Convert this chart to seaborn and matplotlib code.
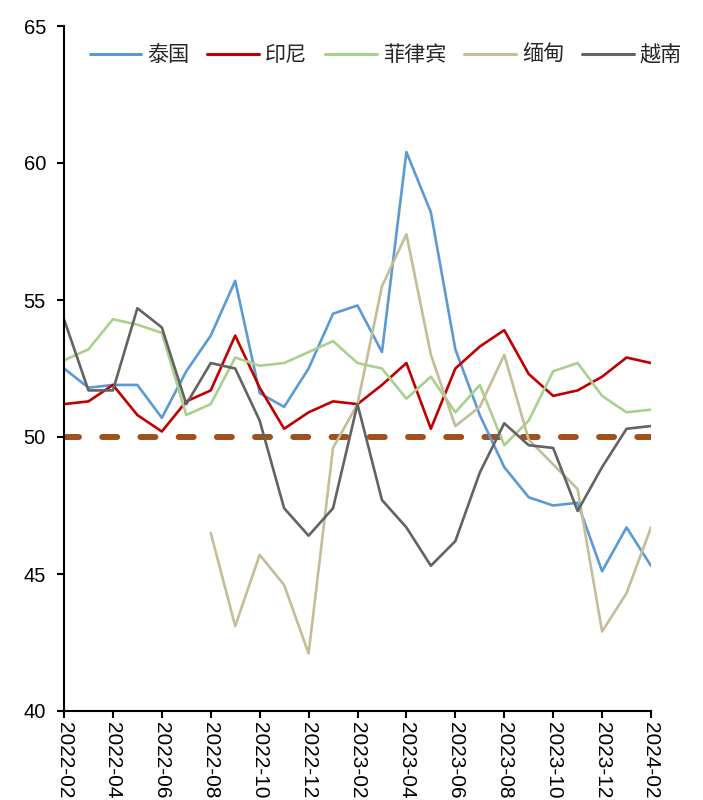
import numpy as np
import pandas as pd
import matplotlib
matplotlib.use("Agg")
import matplotlib.pyplot as plt
import seaborn as sns

# Monthly PMI readings, 2022-02 .. 2024-02
months = pd.period_range("2022-02", "2024-02", freq="M").strftime("%Y-%m").tolist()

thailand = [52.5, 51.8, 51.9, 51.9, 50.7, 52.4, 53.7, 55.7, 51.6, 51.1, 52.5, 54.5, 54.8,
            53.1, 60.4, 58.2, 53.2, 50.8, 48.9, 47.8, 47.5, 47.6, 45.1, 46.7, 45.3]
indonesia = [51.2, 51.3, 51.9, 50.8, 50.2, 51.3, 51.7, 53.7, 51.8, 50.3, 50.9, 51.3, 51.2,
             51.9, 52.7, 50.3, 52.5, 53.3, 53.9, 52.3, 51.5, 51.7, 52.2, 52.9, 52.7]
philippines = [52.8, 53.2, 54.3, 54.1, 53.8, 50.8, 51.2, 52.9, 52.6, 52.7, 53.1, 53.5, 52.7,
               52.5, 51.4, 52.2, 50.9, 51.9, 49.7, 50.6, 52.4, 52.7, 51.5, 50.9, 51.0]
myanmar = [np.nan, np.nan, np.nan, np.nan, np.nan, np.nan, 46.5, 43.1, 45.7, 44.6, 42.1, 49.6, 51.2,
           55.5, 57.4, 53.0, 50.4, 51.1, 53.0, 49.9, 49.0, 48.1, 42.9, 44.3, 46.7]
vietnam = [54.3, 51.7, 51.7, 54.7, 54.0, 51.2, 52.7, 52.5, 50.6, 47.4, 46.4, 47.4, 51.2,
           47.7, 46.7, 45.3, 46.2, 48.7, 50.5, 49.7, 49.6, 47.3, 48.9, 50.3, 50.4]

countries = ["泰国", "印尼", "菲律宾", "缅甸", "越南"]
colors = ["#5B9BD5", "#C00000", "#A9D18E", "#C4BD97", "#636363"]
threshold = 50

series = dict(zip(countries, [thailand, indonesia, philippines, myanmar, vietnam]))
df = pd.DataFrame(series)
df["idx"] = np.arange(len(months))
long = df.melt(id_vars="idx", var_name="country", value_name="pmi").dropna()

sns.set_style("white")
plt.rcParams["font.family"] = ["Liberation Sans", "Noto Sans CJK SC", "DejaVu Sans"]

fig = plt.figure(figsize=(7.03, 8.0), dpi=100)
ax = fig.add_axes([64 / 703, 1 - 711 / 800, (651 - 64) / 703, (711 - 26) / 800])

sns.lineplot(data=long, x="idx", y="pmi", hue="country", hue_order=countries,
             palette=dict(zip(countries, colors)), linewidth=1.9, ax=ax,
             estimator=None, sort=True)

# 50 boom/bust threshold
ref = ax.axhline(threshold, color="#A0501A", linewidth=4.3, zorder=1,
                 dash_capstyle="round")
ref.set_dashes((2.5, 3.9))

ax.set_xlim(0, len(months) - 1)
ax.set_ylim(40, 65)
ax.set_yticks([40, 45, 50, 55, 60, 65])
tick_pos = np.arange(0, len(months), 2)
ax.set_xticks(tick_pos)
ax.set_xticklabels([months[i] for i in tick_pos], rotation=-90, va="top", ha="center")
ax.set_xlabel("")
ax.set_ylabel("")

for side in ("top", "right"):
    ax.spines[side].set_visible(False)
for side in ("left", "bottom"):
    ax.spines[side].set_color("black")
    ax.spines[side].set_linewidth(1.5)
ax.tick_params(axis="both", which="major", direction="out", length=5, width=1.5,
               color="black", labelsize=14.5, labelcolor="black", left=True, bottom=True)
ax.tick_params(axis="y", pad=8)
ax.tick_params(axis="x", pad=3, labelsize=15)

handles, labels = ax.get_legend_handles_labels()
leg = ax.legend(handles, labels, loc="upper left", bbox_to_anchor=(0.022, 0.992), ncol=5,
                frameon=False, handlelength=2.45, handletextpad=0.28, columnspacing=0.85,
                prop={"family": ["Noto Sans CJK SC", "DejaVu Sans"], "size": 15.2},
                borderaxespad=0.2)
for line in leg.get_lines():
    line.set_linewidth(2.2)

fig.savefig("out.png", dpi=100, facecolor="white")
